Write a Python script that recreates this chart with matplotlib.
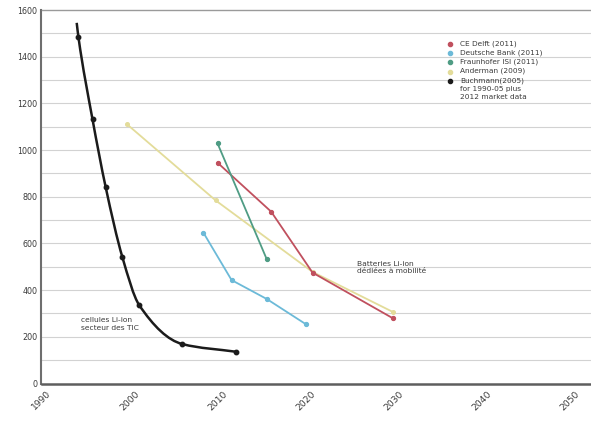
import numpy as np
import matplotlib
matplotlib.use("Agg")
import matplotlib.pyplot as plt
from matplotlib.path import Path
from matplotlib.patches import PathPatch
from matplotlib.lines import Line2D

# ---- data -------------------------------------------------------------
buchmann_years = [1994.0, 1994.2, 1995.8, 1997.3, 1999.2, 2001.1, 2006.0, 2012.1]
buchmann_cost = [1545, 1483, 1131, 840, 540, 336, 169, 136]

anderman_years = [1999.7, 2009.8, 2020.8, 2029.9]
anderman_cost = [1111, 784, 478, 307]

ce_delft_years = [2010.0, 2016.1, 2020.8, 2029.9]
ce_delft_cost = [946, 736, 475, 280]

fraunhofer_years = [2010.0, 2015.6]
fraunhofer_cost = [1029, 532]

deutsche_bank_years = [2008.4, 2011.6, 2015.6, 2020.0]
deutsche_bank_cost = [646, 443, 362, 255]

legend_labels = [
    "CE Delft (2011)",
    "Deutsche Bank (2011)",
    "Fraunhofer ISI (2011)",
    "Anderman (2009)",
    "Buchmann(2005)\nfor 1990-05 plus\n2012 market data",
]

x_ticks = [1990, 2000, 2010, 2020, 2030, 2040, 2050]
y_ticks = [0, 200, 400, 600, 800, 1000, 1200, 1400, 1600]

# ---- colours ----------------------------------------------------------
c_black = "#1b1b1b"
c_red = "#c0505e"
c_blue = "#6cbad8"
c_green = "#4f9c84"
c_yellow = "#e3dc9a"
c_text = "#3a3a3a"

W, H = 591, 423
fig = plt.figure(figsize=(W / 100, H / 100), dpi=100)
fig.patch.set_facecolor("white")

left_px, right_px = 41.5, 591
top_px, bottom_px = 10, 383.5
ax = fig.add_axes([left_px / W, 1 - bottom_px / H,
                   (right_px - left_px) / W, (bottom_px - top_px) / H])
ax.set_xlim(1990, 1990 + (right_px - left_px) / 8.8)
ax.set_ylim(0, 1600)

# horizontal grid every 100
for v in range(100, 1600, 100):
    ax.axhline(v, color="#d2d2d2", lw=0.8, zorder=0)

# spines
ax.spines["right"].set_visible(False)
ax.spines["top"].set_color("#9a9a9a")
ax.spines["top"].set_linewidth(1.0)
ax.spines["left"].set_color("#6e6e6e")
ax.spines["left"].set_linewidth(1.5)
ax.spines["bottom"].set_color("#5e5e5e")
ax.spines["bottom"].set_linewidth(1.8)

ax.set_xticks(x_ticks)
ax.set_xticklabels([str(t) for t in x_ticks], rotation=45, ha="center",
                   fontsize=6.6, color=c_text)
ax.set_yticks(y_ticks)
ax.set_yticklabels([str(t) for t in y_ticks], fontsize=5.8, color=c_text)
ax.tick_params(axis="both", length=0)
ax.tick_params(axis="x", pad=4)
ax.tick_params(axis="y", pad=3)


def smooth_path(xs, ys):
    """Monotone cubic (Fritsch-Carlson) curve through the points as a Bezier path."""
    xs = np.asarray(xs, float)
    ys = np.asarray(ys, float)
    h = np.diff(xs)
    d = np.diff(ys) / h
    m = np.zeros_like(ys)
    m[0], m[-1] = d[0], d[-1]
    for i in range(1, len(xs) - 1):
        if d[i - 1] * d[i] <= 0:
            m[i] = 0
        else:
            w1 = 2 * h[i] + h[i - 1]
            w2 = h[i] + 2 * h[i - 1]
            m[i] = (w1 + w2) / (w1 / d[i - 1] + w2 / d[i])
    verts = [(xs[0], ys[0])]
    codes = [Path.MOVETO]
    for i in range(len(xs) - 1):
        verts += [(xs[i] + h[i] / 3, ys[i] + m[i] * h[i] / 3),
                  (xs[i + 1] - h[i] / 3, ys[i + 1] - m[i + 1] * h[i] / 3),
                  (xs[i + 1], ys[i + 1])]
        codes += [Path.CURVE4] * 3
    return Path(verts, codes)


# Buchmann curve (smoothed)
ax.add_patch(PathPatch(smooth_path(buchmann_years, buchmann_cost),
                       facecolor="none", edgecolor=c_black, lw=1.8, zorder=5))
ax.plot(buchmann_years[1:], buchmann_cost[1:], ls="none", marker="o",
        ms=3.2, color=c_black, zorder=6)

# other studies
ax.plot(anderman_years, anderman_cost, color=c_yellow, lw=1.3, marker="o",
        ms=2.6, zorder=3)
ax.plot(ce_delft_years, ce_delft_cost, color=c_red, lw=1.3, marker="o",
        ms=2.8, zorder=4)
ax.plot(fraunhofer_years, fraunhofer_cost, color=c_green, lw=1.3, marker="o",
        ms=2.8, zorder=4)
ax.plot(deutsche_bank_years, deutsche_bank_cost, color=c_blue, lw=1.3,
        marker="o", ms=2.8, zorder=4)

# annotations
ax.text(1994.5, 255, "cellules Li-ion\nsecteur des TIC", fontsize=5.4,
        color=c_text, va="center", ha="left", linespacing=1.25)
ax.text(2025.8, 497, "Batteries Li-ion\ndédiées à mobilité", fontsize=5.4,
        color=c_text, va="center", ha="left", linespacing=1.25)

# legend: marker + label per row, first text line level with the marker
legend_colors = [c_red, c_blue, c_green, c_yellow, c_black]
row_top = 44.0
row_step = 9.2
mk_x, txt_x = 449.5, 460.0
y = row_top
for col, lab in zip(legend_colors, legend_labels):
    fy = 1 - y / H
    fig.add_artist(Line2D([mk_x / W], [fy], ls="none", marker="o", ms=3,
                          color=col, transform=fig.transFigure))
    fig.text(txt_x / W, fy + 3.6 / H, lab, fontsize=5.3, color=c_text,
             ha="left", va="top", linespacing=1.38)
    y += row_step * (lab.count("\n") + 1)

fig.savefig("out.png", dpi=100, facecolor="white")
